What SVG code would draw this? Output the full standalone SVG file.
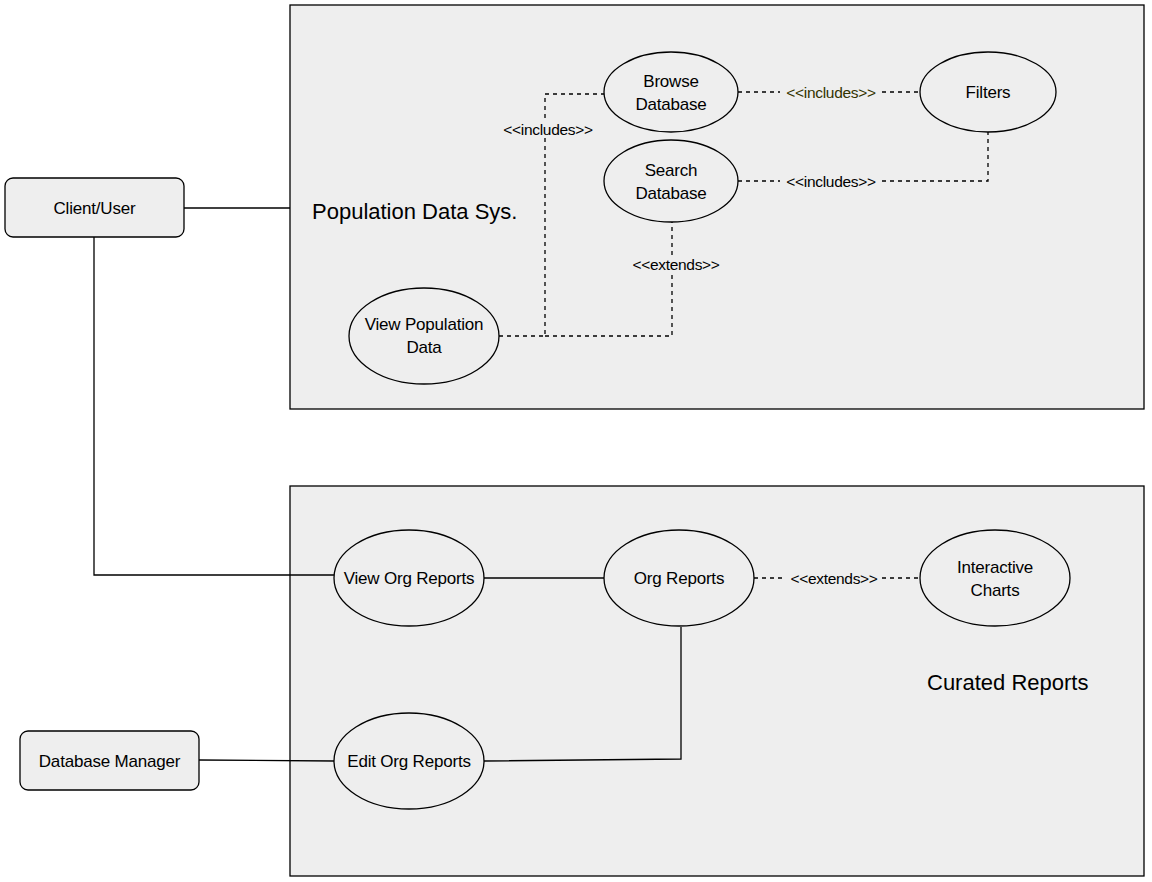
<svg xmlns="http://www.w3.org/2000/svg" width="1152" height="882" viewBox="0 0 1152 882">
<style>
.sys{fill:#eeeeee;stroke:#000;stroke-width:1.3}
.uc{fill:#eeeeee;stroke:#000;stroke-width:1.3}
.act{fill:#eeeeee;stroke:#000;stroke-width:1.3}
.t{font-family:"Liberation Sans",Arial,sans-serif;font-size:17px;fill:#000;text-anchor:middle;letter-spacing:-0.2px}
.big{font-family:"Liberation Sans",Arial,sans-serif;font-size:22px;fill:#000}
.lbl{font-family:"Liberation Sans",Arial,sans-serif;font-size:15.5px;fill:#000;text-anchor:middle;letter-spacing:-0.3px}
.solid{fill:none;stroke:#000;stroke-width:1.3}
.dash{fill:none;stroke:#000;stroke-width:1.3;stroke-dasharray:4 4}
.bg{fill:#eeeeee}
</style>
<rect width="1152" height="882" fill="#ffffff"/>
<g id="sys-population">
<rect class="sys" x="290" y="5" width="854" height="404"/>
<text class="big" x="312" y="219">Population Data Sys.</text>
</g>
<g id="sys-curated">
<rect class="sys" x="290" y="486" width="854" height="390"/>
<text class="big" x="927" y="690">Curated Reports</text>
</g>
<g id="connectors">
<path class="solid" d="M184 208H290"/>
<path class="solid" d="M94 237V575H334"/>
<path class="solid" d="M199 760L334 761"/>
<path class="solid" d="M484 578H604"/>
<path class="solid" d="M484 761L681 759V627"/>
<path class="dash" d="M754 578H920"/>
<rect class="bg" x="782" y="570" width="100" height="16"/>
<text class="lbl" x="834" y="584">&lt;&lt;extends&gt;&gt;</text>
<path class="dash" d="M738 92H920"/>
<rect class="bg" x="780" y="84" width="102" height="16"/>
<text class="lbl" x="831" y="98" style="fill:#333300">&lt;&lt;includes&gt;&gt;</text>
<path class="dash" d="M738 181H988V132"/>
<rect class="bg" x="780" y="173" width="102" height="16"/>
<text class="lbl" x="831" y="187">&lt;&lt;includes&gt;&gt;</text>
<path class="dash" d="M499 336H545V94H604"/>
<rect class="bg" x="496" y="121" width="104" height="16"/>
<text class="lbl" x="548" y="135">&lt;&lt;includes&gt;&gt;</text>
<path class="dash" d="M545 336H672V222"/>
<rect class="bg" x="626" y="256" width="100" height="16"/>
<text class="lbl" x="676" y="270">&lt;&lt;extends&gt;&gt;</text>
</g>
<g id="client-user">
<rect class="act" x="5" y="178" width="179" height="59" rx="8"/>
<text class="t" x="94.5" y="214">Client/User</text>
</g>
<g id="database-manager">
<rect class="act" x="20" y="731" width="179" height="59" rx="8"/>
<text class="t" x="109.5" y="767">Database Manager</text>
</g>
<g id="browse-database">
<ellipse class="uc" cx="671" cy="92" rx="67" ry="40"/>
<text class="t" x="671" y="87">Browse</text>
<text class="t" x="671" y="110">Database</text>
</g>
<g id="filters">
<ellipse class="uc" cx="988" cy="92" rx="68" ry="40"/>
<text class="t" x="988" y="98">Filters</text>
</g>
<g id="search-database">
<ellipse class="uc" cx="671" cy="181" rx="67" ry="41"/>
<text class="t" x="671" y="176">Search</text>
<text class="t" x="671" y="199">Database</text>
</g>
<g id="view-population-data">
<ellipse class="uc" cx="424" cy="336" rx="75" ry="48"/>
<text class="t" x="424" y="330">View Population</text>
<text class="t" x="424" y="353">Data</text>
</g>
<g id="view-org-reports">
<ellipse class="uc" cx="409" cy="578" rx="75" ry="48"/>
<text class="t" x="409" y="584">View Org Reports</text>
</g>
<g id="org-reports">
<ellipse class="uc" cx="679" cy="578" rx="75" ry="48"/>
<text class="t" x="679" y="584">Org Reports</text>
</g>
<g id="interactive-charts">
<ellipse class="uc" cx="995" cy="578" rx="75" ry="48"/>
<text class="t" x="995" y="573">Interactive</text>
<text class="t" x="995" y="596">Charts</text>
</g>
<g id="edit-org-reports">
<ellipse class="uc" cx="409" cy="761" rx="75" ry="48"/>
<text class="t" x="409" y="767">Edit Org Reports</text>
</g>
</svg>
